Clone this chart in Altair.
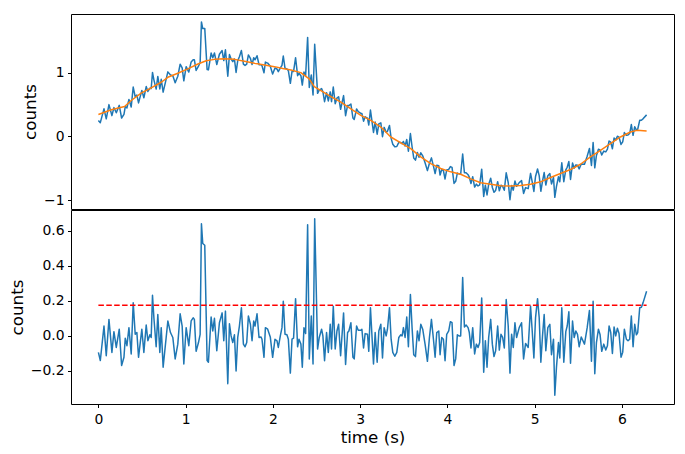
import altair as alt
import numpy as np
import pandas as pd

# ---- residual series (bottom panel) ----
t = [0.0, 0.022, 0.064, 0.09, 0.121, 0.155, 0.178, 0.205, 0.239, 0.266, 0.293, 0.308, 0.327, 0.35, 0.376, 0.399, 0.422, 0.441, 0.46, 0.498, 0.521, 0.548, 0.567, 0.59, 0.605, 0.62, 0.636, 0.662, 0.681, 0.704, 0.72, 0.742,
     0.796, 0.826, 0.853, 0.88, 0.91, 0.937, 0.96, 0.979, 1.006, 1.036, 1.063, 1.086, 1.1, 1.12, 1.147, 1.166, 1.181, 1.196, 1.219, 1.246, 1.261, 1.292, 1.311, 1.33, 1.357, 1.387, 1.418, 1.437, 1.456, 1.483, 1.502, 1.521, 1.54,
     1.559, 1.578, 1.597, 1.616, 1.639, 1.662, 1.681, 1.7, 1.719, 1.742, 1.761, 1.78, 1.795, 1.818, 1.841, 1.864, 1.875, 1.898, 1.914, 1.94, 1.97, 1.997, 2.024, 2.047, 2.062, 2.085, 2.104, 2.119, 2.139, 2.161, 2.177, 2.2, 2.219, 2.237, 2.26, 2.283, 2.299, 2.321, 2.337, 2.356,
     2.375, 2.398, 2.417, 2.44, 2.46, 2.479, 2.512, 2.531, 2.558, 2.573, 2.592, 2.615, 2.635, 2.657, 2.672, 2.692, 2.714, 2.734, 2.753, 2.776, 2.81, 2.833, 2.856, 2.871, 2.894, 2.917, 2.932, 2.959, 2.978, 3.008, 3.02, 3.039, 3.057, 3.084, 3.099, 3.118,
     3.153, 3.172, 3.195, 3.214, 3.237, 3.256, 3.275, 3.298, 3.313, 3.336, 3.355, 3.374, 3.397, 3.42, 3.443, 3.466, 3.481, 3.496, 3.515, 3.534, 3.553, 3.576, 3.595, 3.614, 3.634, 3.656, 3.675, 3.695, 3.717, 3.744, 3.771, 3.794, 3.817, 3.84, 3.859, 3.878, 3.901, 3.916, 3.935, 3.954,
     3.973, 3.992, 4.015, 4.034, 4.053, 4.076, 4.095, 4.114, 4.133, 4.152, 4.175, 4.195, 4.214, 4.237, 4.251, 4.27, 4.29, 4.312, 4.332, 4.351, 4.37, 4.393, 4.416, 4.435, 4.454, 4.473, 4.496, 4.515, 4.534, 4.553, 4.576, 4.595, 4.614, 4.633, 4.652, 4.674, 4.697, 4.717, 4.736, 4.755, 4.774,
     4.793, 4.823, 4.85, 4.873, 4.896, 4.926, 4.953, 4.972, 4.991, 5.01, 5.033, 5.052, 5.071, 5.09, 5.109, 5.128, 5.151, 5.174, 5.193, 5.216, 5.231, 5.25, 5.273, 5.288, 5.311, 5.334, 5.357, 5.373, 5.392, 5.411, 5.434, 5.453, 5.472, 5.491, 5.51, 5.534,
     5.571, 5.602, 5.628, 5.651, 5.67, 5.689, 5.708, 5.731, 5.75, 5.769, 5.792, 5.815, 5.834, 5.853, 5.872, 5.891, 5.91, 5.929, 5.948, 5.967, 5.99, 6.009, 6.028, 6.051, 6.07, 6.089, 6.108, 6.128, 6.147, 6.166, 6.181, 6.204, 6.223, 6.242, 6.283]

resid = [-0.094, -0.14, 0.056, -0.113, 0.094, -0.094, 0.024, -0.066, 0.038, -0.169, -0.122, -0.013, -0.056, 0.047, -0.103, 0.188, 0.009, 0.019, -0.122, 0.038, -0.094, 0.062, -0.028, 0.006, -0.009, 0.231, 0.103, -0.062, 0.122, -0.094, 0.047, -0.178,
         0.085, 0.019, -0.009, -0.131, -0.047, 0.126, 0.056, -0.16, 0.047, -0.056, 0.085, 0.103, 0.094, -0.088, -0.038, 0.009, 0.638, 0.526, 0.516, -0.141, -0.15, 0.107, 0.028, 0.1, -0.085, 0.075, 0.131, -0.028, 0.141, -0.272, 0.069, 0.0, -0.038,
         0.006, -0.2, -0.009, 0.056, 0.16, -0.047, -0.062, -0.038, 0.113, 0.066, -0.028, 0.085, 0.056, 0.126, -0.009, -0.006, -0.019, -0.122, 0.047, 0.038, -0.006, -0.122, -0.019, -0.028, -0.066, 0.0, 0.047, 0.197, 0.009, 0.006, -0.019, -0.212, -0.019, -0.013, 0.212, -0.062, -0.019, -0.047, -0.178, 0.047,
         0.013, 0.633, -0.131, 0.113, -0.16, 0.667, -0.075, -0.009, 0.038, 0.0, -0.141, 0.019, -0.094, 0.066, -0.075, 0.169, -0.075, 0.028, 0.066, -0.113, 0.131, -0.163, 0.019, 0.028, 0.075, -0.122, -0.131, 0.056, 0.032, 0.032, 0.038, -0.069, 0.013, 0.009, -0.088, 0.16,
         -0.16, 0.019, -0.15, 0.028, 0.066, -0.126, 0.047, 0.0, 0.038, 0.16, -0.019, -0.094, -0.116, -0.094, -0.009, 0.006, 0.0, 0.047, -0.009, 0.107, -0.062, 0.235, 0.047, -0.107, -0.118, 0.028, -0.028, 0.066, 0.038, -0.047, -0.145, -0.009, 0.094, -0.019, -0.122, 0.019, 0.028, -0.107, -0.009, -0.019,
         -0.141, 0.009, 0.028, 0.081, 0.075, -0.169, -0.131, 0.006, 0.0, 0.0, 0.332, 0.051, 0.062, 0.047, 0.019, -0.069, 0.047, -0.103, -0.047, -0.066, -0.038, 0.216, -0.207, -0.028, -0.178, -0.009, 0.094, -0.047, -0.118, -0.085, 0.056, -0.081, 0.009, -0.009, -0.069, 0.207, 0.056, -0.212, 0.009, -0.066, 0.075,
         -0.009, 0.047, 0.075, -0.131, -0.043, -0.066, 0.169, 0.028, -0.126, 0.103, 0.212, 0.103, -0.15, 0.0, 0.122, -0.085, 0.047, 0.066, -0.107, -0.019, -0.338, -0.178, -0.038, -0.126, 0.16, -0.15, 0.024, 0.056, 0.137, -0.156, 0.085, -0.009, 0.028, 0.009, -0.062, -0.006,
         -0.047, 0.047, 0.145, -0.145, 0.197, -0.216, -0.038, 0.038, 0.006, -0.088, -0.047, -0.081, -0.056, 0.056, 0.019, -0.1, 0.051, 0.0, 0.043, 0.013, -0.122, -0.094, 0.038, -0.019, -0.028, -0.019, 0.113, -0.062, 0.066, 0.006, 0.019, 0.16, 0.163, 0.188, 0.254]

# ---- smooth fit (orange curve, top panel) ----
fit_t = [0.0, 0.148, 0.30, 0.376, 0.49, 0.605, 0.72, 0.796, 0.91, 1.025, 1.14, 1.236, 1.331, 1.445, 1.56, 1.674, 1.789, 1.903, 2.018, 2.113, 2.207, 2.32, 2.416, 2.474, 2.55, 2.665, 2.779, 2.894, 3.008, 3.122, 3.237, 3.351, 3.466, 3.58, 3.694, 3.809, 3.923, 4.038, 4.152, 4.267, 4.381, 4.495, 4.61, 4.724, 4.839, 4.953, 5.068, 5.182, 5.296, 5.41, 5.525, 5.639, 5.754, 5.868, 5.983, 6.097, 6.173, 6.283]
fit_v = [0.344, 0.417, 0.469, 0.5625, 0.677, 0.76, 0.849, 0.927, 0.99, 1.058, 1.135, 1.1875, 1.208, 1.219, 1.208, 1.177, 1.146, 1.12, 1.094, 1.065, 1.042, 1.0, 0.901, 0.781, 0.719, 0.625, 0.536, 0.432, 0.328, 0.25, 0.146, -0.01, -0.104, -0.193, -0.323, -0.427, -0.505, -0.557, -0.594, -0.668, -0.729, -0.75, -0.776, -0.781, -0.771, -0.75, -0.714, -0.646, -0.583, -0.521, -0.438, -0.323, -0.219, -0.115, -0.01, 0.068, 0.094, 0.083]

threshold = 0.175
x_ticks = [0, 1, 2, 3, 4, 5, 6]
top_ticks = [-1, 0, 1]
bottom_ticks = [-0.2, 0.0, 0.2, 0.4, 0.6]

# observed signal = smooth trend + residual
signal = np.round(np.interp(t, fit_t, fit_v) + np.array(resid), 3)

df = pd.DataFrame({"t": t, "signal": signal, "resid": resid})
fit_df = pd.DataFrame({"t": fit_t, "fit": fit_v})
thr_df = pd.DataFrame({"t0": [t[0]], "t1": [t[-1]], "y": [threshold]})

FONT = "DejaVu Sans"
xscale = alt.Scale(domain=[-0.314, 6.597], nice=False, zero=False)
top_scale = alt.Scale(domain=[-1.14, 1.92], nice=False, zero=False)
bot_scale = alt.Scale(domain=[-0.388, 0.717], nice=False, zero=False)

top_axis = alt.Axis(values=top_ticks, format="d", title="counts")
bot_axis = alt.Axis(values=bottom_ticks, format=".1f", title="counts")

top_data = alt.Chart(df).mark_line(color="#1f77b4", strokeWidth=1.5, strokeJoin="round").encode(
    x=alt.X("t:Q", scale=xscale, axis=None),
    y=alt.Y("signal:Q", scale=top_scale, axis=top_axis),
)
top_fit = alt.Chart(fit_df).mark_line(color="#ff7f0e", strokeWidth=1.5, strokeJoin="round").encode(
    x=alt.X("t:Q", scale=xscale, axis=None),
    y=alt.Y("fit:Q", scale=top_scale, axis=top_axis),
)
top = alt.layer(top_data, top_fit).properties(width=603, height=195)

bot_line = alt.Chart(df).mark_line(color="#1f77b4", strokeWidth=1.5, strokeJoin="round").encode(
    x=alt.X("t:Q", scale=xscale, axis=alt.Axis(values=x_ticks, format="d", title="time (s)", labelPadding=4.5)),
    y=alt.Y("resid:Q", scale=bot_scale, axis=bot_axis),
)
bot_rule = alt.Chart(thr_df).mark_rule(color="#ff0000", strokeWidth=1.5, strokeDash=[5.5, 2.4]).encode(
    x=alt.X("t0:Q", scale=xscale),
    x2="t1:Q",
    y=alt.Y("y:Q", scale=bot_scale, axis=bot_axis),
)
bottom = alt.layer(bot_line, bot_rule).properties(width=603, height=194)

chart = (
    alt.vconcat(top, bottom, spacing=-1)
    .properties(padding={"left": 0, "top": 5, "right": 0, "bottom": 0}, background="white")
    .configure_view(stroke="black", strokeWidth=1)
    .configure_axis(
        labelFont=FONT, labelFontSize=13.9, labelColor="black",
        titleFont=FONT, titleFontSize=16.7, titleFontWeight="normal", titleColor="black",
        tickColor="black", tickSize=3.5, tickWidth=1, labelPadding=3.5, titlePadding=4,
        domain=False, grid=False, labelFlush=False,
    )
)

chart.save("out.html", embed_options={"renderer": "svg", "actions": False})
